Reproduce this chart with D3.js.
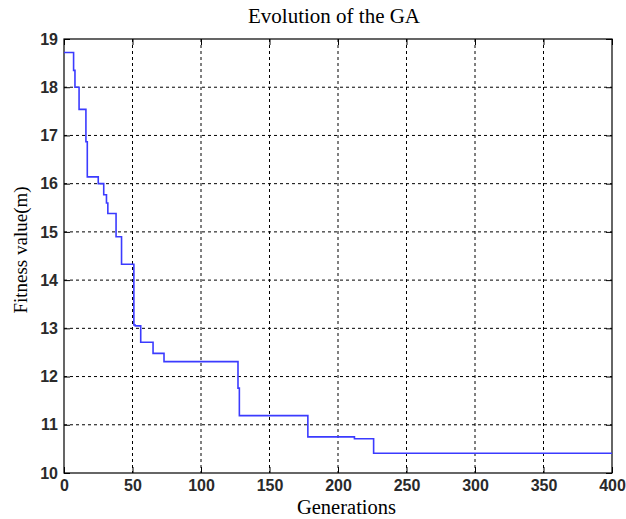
<!DOCTYPE html>
<html><head><meta charset="utf-8">
<script src="https://cdn.jsdelivr.net/npm/d3@7"></script>
<style>body{margin:0;background:#fff}</style>
</head><body>
<svg id="c" width="626" height="519"></svg>
<script>
const gens   = [0, 7, 8, 11, 16, 17, 25, 29, 31, 32, 38, 42, 51, 52, 56, 65, 73, 127, 128, 178, 212, 226, 400];
const values = [18.72, 18.35, 18.0, 17.54, 16.87, 16.14, 16.0, 15.77, 15.6, 15.38, 14.9, 14.33, 13.07, 13.05, 12.71, 12.48, 12.31, 11.76, 11.19, 10.75, 10.71, 10.41, 10.41];
const xTicks = [0, 50, 100, 150, 200, 250, 300, 350, 400];
const yTicks = [10, 11, 12, 13, 14, 15, 16, 17, 18, 19];
const title = "Evolution of the GA";
const xLabel = "Generations";
const yLabel = "Fitness value(m)";

const L = 64, R = 612, T = 39, B = 473;
const svg = d3.select("#c");
const x = d3.scaleLinear().domain([0, 400]).range([L, R]);
const y = d3.scaleLinear().domain([10, 19]).range([B, T]);

// grid
const g = svg.append("g");
g.selectAll(".vg").data(xTicks.slice(1, -1)).join("line")
  .attr("x1", d => x(d)).attr("x2", d => x(d)).attr("y1", T).attr("y2", B)
  .attr("stroke", "#000").attr("stroke-width", 1).attr("stroke-dasharray", "3,3");
g.selectAll(".hg").data(yTicks.slice(1, -1)).join("line")
  .attr("y1", d => y(d)).attr("y2", d => y(d)).attr("x1", L).attr("x2", R)
  .attr("stroke", "#000").attr("stroke-width", 1).attr("stroke-dasharray", "3,3");

// axes (inward ticks, MATLAB style)
const font = "'Liberation Sans Narrow', 'Arial Narrow', Arial, 'Liberation Sans', sans-serif";
const xa = svg.append("g").attr("transform", `translate(0,${B})`)
  .call(d3.axisBottom(x).tickValues(xTicks).tickSizeInner(-6).tickSizeOuter(0).tickPadding(7));
const xt = svg.append("g").attr("transform", `translate(0,${T})`)
  .call(d3.axisTop(x).tickValues(xTicks).tickSizeInner(-6).tickSizeOuter(0).tickFormat(""));
const ya = svg.append("g").attr("transform", `translate(${L},0)`)
  .call(d3.axisLeft(y).tickValues(yTicks).tickSizeInner(-6).tickSizeOuter(0).tickPadding(6));
const yr = svg.append("g").attr("transform", `translate(${R},0)`)
  .call(d3.axisRight(y).tickValues(yTicks).tickSizeInner(-6).tickSizeOuter(0).tickFormat(""));
[xa, xt, ya, yr].forEach(a => {
  a.select(".domain").remove();
  a.selectAll("line").attr("stroke", "#000");
  a.selectAll("text").attr("font-family", font).attr("font-size", 16)
    .attr("font-weight", "bold").attr("fill", "#2a2a2a");
});

// box
svg.append("rect").attr("x", L).attr("y", T).attr("width", R - L).attr("height", B - T)
  .attr("fill", "none").attr("stroke", "#000").attr("stroke-width", 1.2);

// line
const pts = gens.map((d, i) => [d, values[i]]);
svg.append("path").datum(pts)
  .attr("d", d3.line().x(d => x(d[0])).y(d => y(d[1])).curve(d3.curveStepAfter))
  .attr("fill", "none").attr("stroke", "#3b3bff").attr("stroke-width", 1.6);

// titles
const serif = "'Liberation Serif', 'Times New Roman', serif";
svg.append("text").attr("x", 334).attr("y", 23).attr("text-anchor", "middle")
  .attr("font-family", serif).attr("font-size", 21).text(title);
svg.append("text").attr("x", 346.5).attr("y", 514).attr("text-anchor", "middle")
  .attr("font-family", serif).attr("font-size", 20.5).text(xLabel);
svg.append("text").attr("transform", `translate(27,250) rotate(-90)`)
  .attr("text-anchor", "middle").attr("font-family", serif).attr("font-size", 19).text(yLabel);
</script>
</body></html>
